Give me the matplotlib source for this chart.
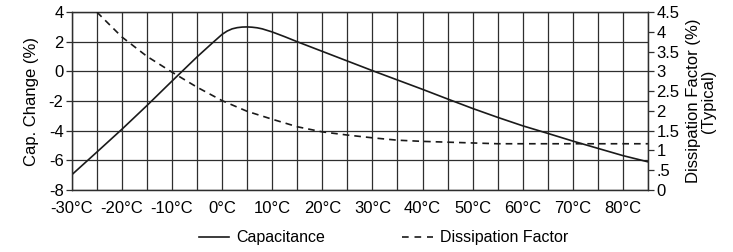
import matplotlib
matplotlib.use("Agg")
import matplotlib.pyplot as plt
from matplotlib.lines import Line2D

plt.rcParams['font.family'] = ['Liberation Sans Narrow', 'Liberation Sans', 'DejaVu Sans']

# Capacitance change (%) vs temperature
cap_temp = [-30, -25, -20, -15, -10, -5, -2, -1, 0, 1, 2, 3, 4, 5, 6, 7, 8, 10,
            12.5, 15, 20, 25, 30, 35, 40, 45, 50, 55, 60, 65, 70, 75, 80, 85]
cap_change = [-6.97, -5.44, -3.9, -2.3, -0.65, 0.98, 1.9, 2.2, 2.5, 2.72, 2.87, 2.95, 2.99, 3.0,
              2.98, 2.94, 2.87, 2.66, 2.34, 2.0, 1.35, 0.7, 0.05, -0.58, -1.21, -1.86,
              -2.5, -3.1, -3.67, -4.18, -4.7, -5.19, -5.68, -6.1]

# Dissipation factor (%) vs temperature
df_temp = [-25, -20, -15, -10, -5, 0, 5, 10, 15, 20, 25, 30, 35, 40, 45, 50, 55, 60, 70, 85]
df_value = [4.5, 3.87, 3.38, 2.98, 2.6, 2.26, 1.99, 1.79, 1.6, 1.47, 1.39, 1.32, 1.26,
            1.23, 1.21, 1.19, 1.17, 1.17, 1.17, 1.17]

x_ticks = list(range(-30, 81, 10))
x_labels = [f"{t}\u00b0C" for t in x_ticks]
left_ticks = [-8, -6, -4, -2, 0, 2, 4]
right_ticks = [0, 0.5, 1, 1.5, 2, 2.5, 3, 3.5, 4, 4.5]
right_labels = ["0", ".5", "1", "1.5", "2", "2.5", "3", "3.5", "4", "4.5"]

fig = plt.figure(figsize=(7.33, 2.52), dpi=100)
ax = fig.add_axes([0.098, 0.246, 0.786, 0.706])
ax2 = ax.twinx()

grid_col = '#2e2e2e'
for t in range(-30, 86, 5):
    ax.axvline(t, color=grid_col, lw=0.9, zorder=1)
for v in left_ticks:
    ax.axhline(v, color=grid_col, lw=0.9, zorder=1)

ax.plot(cap_temp, cap_change, color='#1a1a1a', lw=1.2, zorder=3)
ax2.plot(df_temp, df_value, color='#1a1a1a', lw=1.2, ls=(0, (4, 3)), zorder=3)

ax.set_xlim(-30, 85)
ax.set_ylim(-8, 4)
ax2.set_ylim(0, 4.5)

fs = 12
ax.set_xticks(x_ticks)
ax.set_xticklabels(x_labels, fontsize=fs)
ax.tick_params(axis='x', length=0, pad=8)
ax.set_yticks(left_ticks)
ax.set_yticklabels([str(v) for v in left_ticks], fontsize=fs)
ax.tick_params(axis='y', length=4, width=0.9, color=grid_col, pad=2)

ax2.set_yticks(right_ticks)
ax2.set_yticklabels(right_labels, fontsize=fs)
ax2.tick_params(axis='y', length=4, width=0.9, color=grid_col, pad=2)

for a in (ax, ax2):
    for s in a.spines.values():
        s.set_color(grid_col)
        s.set_linewidth(0.9)

ax.set_ylabel("Cap. Change (%)", fontsize=12, labelpad=7)
ax2.set_ylabel("Dissipation Factor (%)\n(Typical)", fontsize=12, labelpad=5, linespacing=0.95)

handles = [Line2D([], [], color='#1a1a1a', lw=1.2),
           Line2D([], [], color='#1a1a1a', lw=1.2, ls=(0, (4, 3.5)))]
fig.legend(handles, ["Capacitance", "Dissipation Factor"], loc='lower center',
           bbox_to_anchor=(0.523, -0.03), ncol=2, frameon=False, fontsize=11.5,
           handlelength=1.9, handletextpad=0.45, columnspacing=4.85)

fig.savefig("out.png", dpi=100)
